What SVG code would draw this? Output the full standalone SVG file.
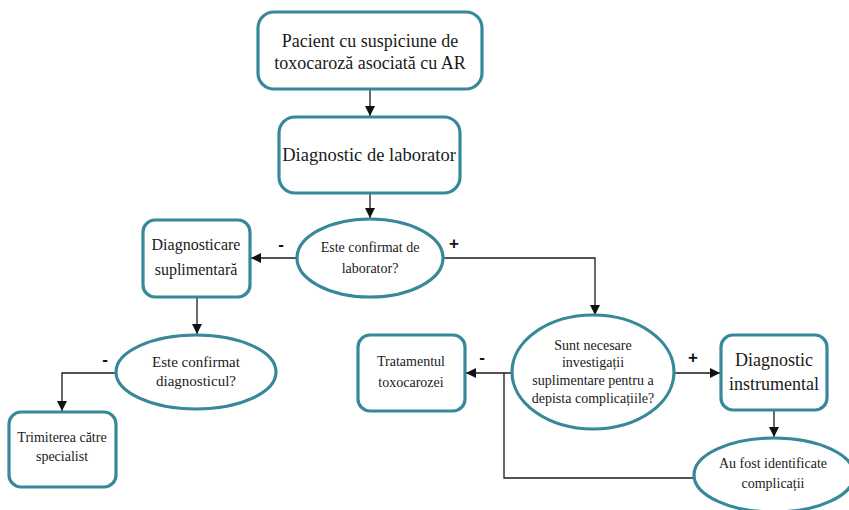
<svg xmlns="http://www.w3.org/2000/svg" width="849" height="510" viewBox="0 0 849 510">
<defs>
<style>
.n{fill:#fff;stroke:#36889a;stroke-width:3.2}
.t{font-family:"Liberation Serif","Times New Roman",serif;fill:#1a1a1a;text-anchor:middle}
.c{fill:none;stroke:#1a1a1a;stroke-width:1.3}
.s{font-family:"Liberation Sans",Arial,sans-serif;font-weight:bold;fill:#111;text-anchor:middle;font-size:17px}
</style>
<marker id="a" viewBox="0 0 10 10" refX="10" refY="5" markerWidth="10" markerHeight="10" markerUnits="userSpaceOnUse" orient="auto">
<path d="M0,0 L10,5 L0,10 z" fill="#111"/>
</marker>
</defs>
<rect width="849" height="510" fill="#fff"/>
<g id="connectors">
<path class="c" d="M370,89 V116" marker-end="url(#a)"/>
<path class="c" d="M370,193 V218" marker-end="url(#a)"/>
<path class="c" d="M297,258 H251" marker-end="url(#a)"/>
<path class="c" d="M443,258 H595 V315" marker-end="url(#a)"/>
<path class="c" d="M197,297 V334" marker-end="url(#a)"/>
<path class="c" d="M116,373 H62 V411" marker-end="url(#a)"/>
<path class="c" d="M512,373 H466" marker-end="url(#a)"/>
<path class="c" d="M673,373 H720" marker-end="url(#a)"/>
<path class="c" d="M774,410 V437" marker-end="url(#a)"/>
<path class="c" d="M694,478 H504 V373"/>
<text class="s" x="281" y="250">-</text>
<text class="s" x="454" y="249">+</text>
<text class="s" x="105" y="365">-</text>
<text class="s" x="482" y="363">-</text>
<text class="s" x="693" y="363">+</text>
</g>
<g id="n1">
<rect class="n" x="258" y="12" width="224" height="77" rx="16"/>
<text class="t" font-size="18" x="370" y="47">Pacient cu suspiciune de</text>
<text class="t" font-size="18" x="370" y="69">toxocaroză asociată cu AR</text>
</g>
<g id="n2">
<rect class="n" x="279" y="117" width="181" height="76" rx="16"/>
<text class="t" font-size="18.5" x="369" y="161">Diagnostic de laborator</text>
</g>
<g id="d1">
<ellipse class="n" cx="370" cy="258" rx="73" ry="39"/>
<text class="t" font-size="14" x="370" y="252">Este confirmat de</text>
<text class="t" font-size="14" x="370" y="273">laborator?</text>
</g>
<g id="n3">
<rect class="n" x="143" y="220" width="107" height="77" rx="12"/>
<text class="t" font-size="16" x="196" y="250">Diagnosticare</text>
<text class="t" font-size="16" x="196" y="275">suplimentară</text>
</g>
<g id="d2">
<ellipse class="n" cx="196" cy="372" rx="80" ry="37"/>
<text class="t" font-size="15" x="196" y="367">Este confirmat</text>
<text class="t" font-size="15" x="196" y="386">diagnosticul?</text>
</g>
<g id="n4">
<rect class="n" x="9" y="412" width="107" height="75" rx="12"/>
<text class="t" font-size="14" x="62" y="442">Trimiterea către</text>
<text class="t" font-size="14" x="62" y="461">specialist</text>
</g>
<g id="n5">
<rect class="n" x="358" y="335" width="107" height="76" rx="12"/>
<text class="t" font-size="14" x="411" y="366">Tratamentul</text>
<text class="t" font-size="14" x="411" y="387">toxocarozei</text>
</g>
<g id="d3">
<ellipse class="n" cx="593" cy="372" rx="81" ry="57"/>
<text class="t" font-size="14" x="593" y="350">Sunt necesare</text>
<text class="t" font-size="14" x="593" y="367">investigații</text>
<text class="t" font-size="14" x="593" y="385">suplimentare pentru a</text>
<text class="t" font-size="14" x="593" y="403">depista complicațiile?</text>
</g>
<g id="n6">
<rect class="n" x="721" y="335" width="106" height="75" rx="12"/>
<text class="t" font-size="18" x="774" y="366">Diagnostic</text>
<text class="t" font-size="18" x="774" y="390">instrumental</text>
</g>
<g id="d4">
<ellipse class="n" cx="774" cy="475" rx="80" ry="37"/>
<text class="t" font-size="14" x="773" y="468">Au fost identificate</text>
<text class="t" font-size="14" x="773" y="488">complicații</text>
</g>
</svg>
